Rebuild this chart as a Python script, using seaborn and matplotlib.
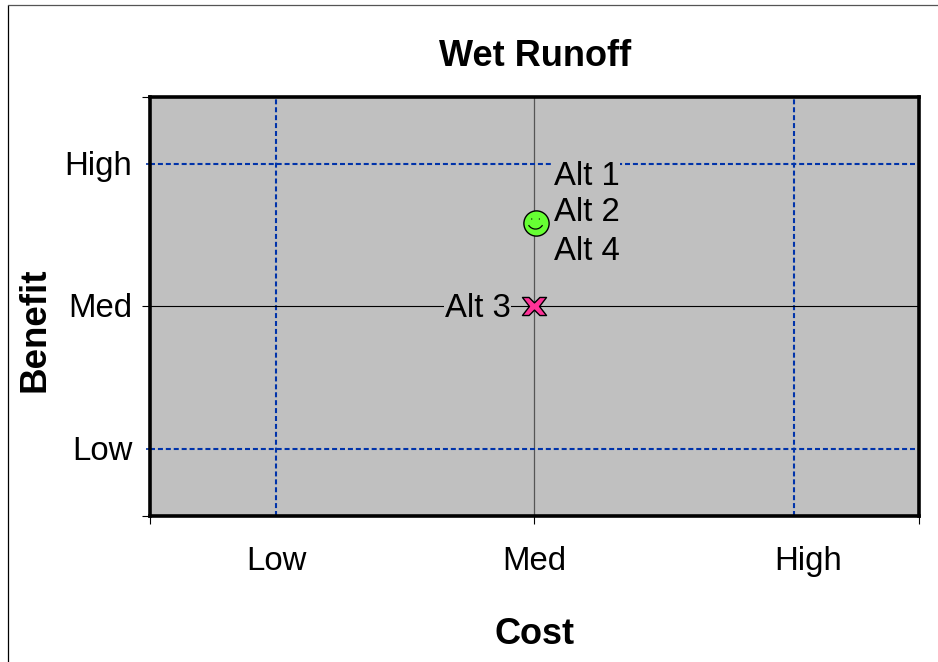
import pandas as pd
import matplotlib.pyplot as plt
import seaborn as sns
from matplotlib.lines import Line2D
from matplotlib.path import Path
from matplotlib.markers import MarkerStyle

# Values, on a 0-100 scale
alternatives = ["Alt 1\nAlt 2\nAlt 4", "Alt 3"]
cost = [50.2, 50]
benefit = [70, 50]
symbols = ["smile", "cross"]

level_names = ["Low", "Med", "High"]
cost_levels = [16.5, 50, 83.8]
benefit_levels = [16, 50, 84]
cost_label_pos = [16.5, 50, 85.7]

sns.set_style("white")
plt.rcParams["font.family"] = ["Liberation Sans", "DejaVu Sans"]
plt.rcParams["text.color"] = "black"

FS = 23.7

df = pd.DataFrame({"alt": alternatives, "cost": cost, "benefit": benefit, "symbol": symbols})

# Wide X like the one in the original
cross = Path([(-1, 0.75), (-0.45, 0.75), (0, 0.3), (0.45, 0.75), (1, 0.75), (0.42, 0),
              (1, -0.75), (0.45, -0.75), (0, -0.3), (-0.45, -0.75), (-1, -0.75), (-0.42, 0), (-1, 0.75)],
             closed=True)
face = Path([(-0.34, 0.28), (-0.26, 0.28), (0.26, 0.28), (0.34, 0.28),
             (-0.55, -0.2), (-0.3, -0.62), (0.3, -0.62), (0.55, -0.2)],
            [Path.MOVETO, Path.LINETO, Path.MOVETO, Path.LINETO,
             Path.MOVETO, Path.CURVE4, Path.CURVE4, Path.CURVE4])

fig = plt.figure(figsize=(9.38, 6.62), dpi=100)
ax = fig.add_axes([149.5 / 938, 1 - 515.5 / 662, 769 / 938, 418.5 / 662])
ax.set_facecolor("#C0C0C0")

for x in cost_levels:
    if x == 50:
        ax.axvline(x, color="#555555", lw=0.9, zorder=1)
    else:
        ax.axvline(x, color="#0033AA", lw=1.5, ls=(0, (2.4, 1.4)), zorder=1)
for y in benefit_levels:
    if y == 50:
        ax.axhline(y, color="black", lw=0.8, zorder=1)
    else:
        ax.axhline(y, color="#0033AA", lw=1.5, ls=(0, (2.4, 1.4)), zorder=1)

smile = df[df["symbol"] == "smile"]
sns.scatterplot(data=smile, x="cost", y="benefit", marker="o", s=330, color="#66FF33",
                edgecolor="black", linewidth=1.0, ax=ax, zorder=3)
ax.scatter(smile["cost"], smile["benefit"], marker=MarkerStyle(face), s=128, facecolors="none",
           edgecolors="black", linewidths=0.9, zorder=4)
sns.scatterplot(data=df[df["symbol"] == "cross"], x="cost", y="benefit", marker=MarkerStyle(cross),
                s=300, color="#FF3399", edgecolor="black", linewidth=1.0, ax=ax, zorder=3)

names = alternatives[0].split("\n")
ax.annotate(names[0], (cost[0], benefit[0]), xytext=(13, 33), textcoords="offset points",
            fontsize=FS, ha="left", va="center", zorder=2,
            bbox=dict(facecolor="#C0C0C0", edgecolor="none", pad=0.3))
ax.annotate(names[1], (cost[0], benefit[0]), xytext=(13, 7.5), textcoords="offset points",
            fontsize=FS, ha="left", va="center", zorder=2)
ax.annotate(names[2], (cost[0], benefit[0]), xytext=(13, -20.5), textcoords="offset points",
            fontsize=FS, ha="left", va="center", zorder=2)
ax.annotate(alternatives[1], (cost[1], benefit[1]), xytext=(-17, -1.5), textcoords="offset points",
            fontsize=FS, ha="right", va="center", zorder=2,
            bbox=dict(facecolor="#C0C0C0", edgecolor="none", pad=0.8))

ax.set_xlim(0, 100)
ax.set_ylim(0, 100)
ax.set_xticks([0, 50, 100], labels=[])
ax.set_yticks([0, 50, 100], labels=[])
ax.set_yticks(benefit_levels[::2], minor=True)
ax.tick_params(axis="both", which="major", length=6, width=0.8, color="black", bottom=True, left=True)
ax.tick_params(axis="y", which="minor", length=3, width=1.2, color="#0033AA", left=True)
for s in ax.spines.values():
    s.set_linewidth(2.6)
    s.set_color("black")

trans_x = ax.get_xaxis_transform()
for name, x in zip(level_names, cost_label_pos):
    ax.text(x, -0.109, name, transform=trans_x, fontsize=FS, ha="center", va="center")
trans_y = ax.get_yaxis_transform()
for name, y in zip(level_names, benefit_levels):
    ax.annotate(name, (0, y), xycoords=trans_y, xytext=(-12.5, -1.8), textcoords="offset points",
                fontsize=FS, ha="right", va="center")

ax.set_xlabel("")
ax.set_ylabel("")
fig.text(535 / 938, 1 - 56 / 662, "Wet Runoff", fontsize=26, fontweight="bold", ha="center", va="center")
fig.text(535 / 938, 1 - 634 / 662, "Cost", fontsize=26, fontweight="bold", ha="center", va="center")
fig.text(35 / 938, 1 - 330 / 662, "Benefit", fontsize=26.5, fontweight="bold", rotation=90, ha="center", va="center")

# Page border, only left and top are in the frame
fig.add_artist(Line2D([7.5 / 938, 7.5 / 938], [0, 1 - 4.5 / 662], color="black", lw=0.9))
fig.add_artist(Line2D([7.5 / 938, 1], [1 - 4.5 / 662, 1 - 4.5 / 662], color="#555555", lw=0.9))

fig.savefig("out.png", dpi=100)
